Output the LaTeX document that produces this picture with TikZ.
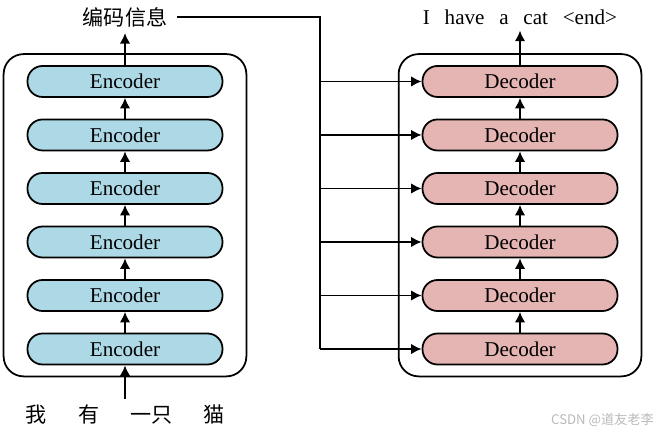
\documentclass[tikz,border=0pt]{standalone}
\usepackage{xcolor}
\usepackage{fontspec}
\setmainfont{Liberation Serif}
\newfontfamily\cjk{Noto Sans CJK SC}
\usepackage{tikz}
\usetikzlibrary{positioning,fit,arrows.meta}

\definecolor{encblue}{RGB}{173,216,230}
\definecolor{decred}{RGB}{229,181,179}

\begin{document}
\begin{tikzpicture}[
    node distance=0.415cm,
    block/.style={rectangle, draw, line width=1pt, rounded corners=0.3cm, inner sep=2pt, minimum height=0.62cm, minimum width=3.9cm, font=\fontsize{12}{14}\selectfont},
    enc/.style={block, fill=encblue},
    dec/.style={block, fill=decred},
    frame/.style={rectangle, draw, line width=1pt, rounded corners=0.4cm, inner xsep=0.46cm, inner ysep=0.22cm},
    arrow/.style={-{Latex[length=6pt,width=6pt]}, line width=1pt},
    word/.style={font=\cjk\fontsize{12}{14}\selectfont}
]
\useasboundingbox (0,0) rectangle (13.2,-8.66);

% Encoder stack
\node (e1) [enc] at (2.5,-6.98) {Encoder};
\node (e2) [enc, above=of e1] {Encoder};
\node (e3) [enc, above=of e2] {Encoder};
\node (e4) [enc, above=of e3] {Encoder};
\node (e5) [enc, above=of e4] {Encoder};
\node (e6) [enc, above=of e5] {Encoder};
\node (encframe) [frame, fit=(e1)(e6)] {};

% Decoder stack
\node (d1) [dec] at (10.4,-6.98) {Decoder};
\node (d2) [dec, above=of d1] {Decoder};
\node (d3) [dec, above=of d2] {Decoder};
\node (d4) [dec, above=of d3] {Decoder};
\node (d5) [dec, above=of d4] {Decoder};
\node (d6) [dec, above=of d5] {Decoder};
\node (decframe) [frame, fit=(d1)(d6)] {};

% Texts
\node (input) [word] at (2.5,-8.3) {我\hspace{1.5em}有\hspace{1.5em}一只\hspace{1.45em}猫};
\node (code)  [word] at (2.5,-0.34) {编码信息};
\node (output) [font=\fontsize{12}{14}\selectfont] at (10.4,-0.34) {I\hspace{0.7em}have\hspace{0.7em}a\hspace{0.7em}cat\hspace{0.7em}<end>};
\node (mark) [font=\cjk\fontsize{7.5}{9}\selectfont, text=gray!55] at (12.05,-8.4) {CSDN @道友老李};
\coordinate (bus) at (6.4,0);

% Arrows
\draw[arrow] (input) -- (e1);
\draw[arrow] (e1) -- (e2);
\draw[arrow] (e2) -- (e3);
\draw[arrow] (e3) -- (e4);
\draw[arrow] (e4) -- (e5);
\draw[arrow] (e5) -- (e6);
\draw[arrow] (e6) -- (code);
\draw[arrow] (d1) -- (d2);
\draw[arrow] (d2) -- (d3);
\draw[arrow] (d3) -- (d4);
\draw[arrow] (d4) -- (d5);
\draw[arrow] (d5) -- (d6);
\draw[arrow] (d6) -- (output);
\draw[line width=1pt] ([xshift=2pt]code.east) -- (code -| bus) -- (bus |- d1);
\foreach \i in {1,...,6}
    \draw[arrow] (bus |- d\i) -- (d\i);

\end{tikzpicture}
\end{document}
